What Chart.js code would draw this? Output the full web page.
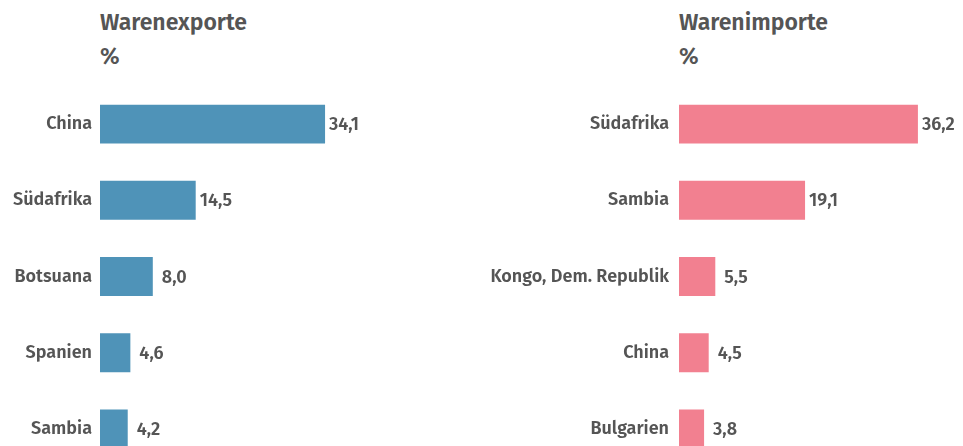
<!DOCTYPE html>
<html>
<head>
<meta charset="utf-8">
<script src="https://cdn.jsdelivr.net/npm/chart.js@4"></script>
<style>
  html, body { margin: 0; padding: 0; width: 963px; height: 446px; overflow: hidden; background: #fff; }
  body { position: relative; font-family: "Fira Sans", "Open Sans", sans-serif; color: #555; }
  .titel { position: absolute; font-size: 23px; font-weight: 600; line-height: 34px; }
  .box { position: absolute; top: 86px; }
</style>
</head>
<body>
<div class="titel" style="left:100px; top:5px;">Warenexporte<br>%</div>
<div class="titel" style="left:679px; top:5px;">Warenimporte<br>%</div>
<div class="box" style="left:0px;"><canvas id="exporte" width="430" height="381"></canvas></div>
<div class="box" style="left:480px;"><canvas id="importe" width="529" height="381"></canvas></div>
<script>
const exportLaender = ['China', 'Südafrika', 'Botsuana', 'Spanien', 'Sambia'];
const exportWerte = [34.1, 14.5, 8.0, 4.6, 4.2];
const importLaender = ['Südafrika', 'Sambia', 'Kongo, Dem. Republik', 'China', 'Bulgarien'];
const importWerte = [36.2, 19.1, 5.5, 4.5, 3.8];

const schrift = '"Fira Sans", "Open Sans", sans-serif';
const format = v => v.toLocaleString('de-DE', { minimumFractionDigits: 1, maximumFractionDigits: 1 });

// Werte rechts neben die Balken schreiben (einstellige Werte etwas weiter eingerückt)
const wertLabels = {
    id: 'wertLabels',
    afterDatasetsDraw(chart) {
        const ctx = chart.ctx;
        ctx.save();
        ctx.font = '600 18px ' + schrift;
        ctx.fillStyle = '#555';
        ctx.textBaseline = 'middle';
        chart.getDatasetMeta(0).data.forEach((bar, i) => {
            const v = chart.data.datasets[0].data[i];
            ctx.fillText(format(v), bar.x + (v < 10 ? 9 : 4), bar.y + 1);
        });
        ctx.restore();
    }
};

function balken(id, laender, werte, farbe, achsenBreite, abstand) {
    new Chart(document.getElementById(id), {
        type: 'bar',
        data: {
            labels: laender,
            datasets: [{
                data: werte,
                backgroundColor: farbe,
                barPercentage: 0.51,
                categoryPercentage: 1
            }]
        },
        options: {
            indexAxis: 'y',
            responsive: false,
            animation: false,
            layout: { padding: 0 },
            plugins: {
                legend: { display: false },
                tooltip: { enabled: false }
            },
            scales: {
                x: { display: false, min: 0, max: 50 },
                y: {
                    grid: { display: false, drawTicks: false },
                    border: { display: false },
                    afterFit: scale => {
                        scale.width = achsenBreite;
                        scale.paddingTop = 0;
                        scale.paddingBottom = 0;
                    },
                    ticks: {
                        color: '#555',
                        padding: abstand,
                        font: { family: schrift, size: 18, weight: '600' }
                    }
                }
            }
        },
        plugins: [wertLabels]
    });
}

balken('exporte', exportLaender, exportWerte, '#4f93b8', 100, 8);
balken('importe', importLaender, importWerte, '#f28090', 199, 10);
</script>
</body>
</html>
